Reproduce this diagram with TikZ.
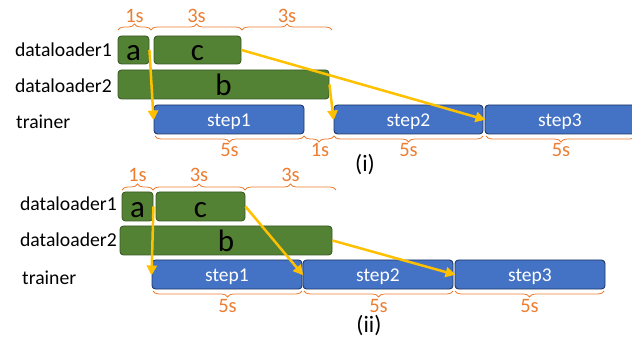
\documentclass[tikz,border=0pt]{standalone}
\usepackage{fontspec}
\setmainfont{Carlito}
\usetikzlibrary{arrows.meta,decorations.pathreplacing}
\definecolor{loadfill}{HTML}{548235}
\definecolor{loadline}{HTML}{3A5A24}
\definecolor{trainfill}{HTML}{4472C4}
\definecolor{trainline}{HTML}{1F3864}
\definecolor{spanline}{HTML}{ED7D31}
\definecolor{flowline}{HTML}{FFC000}
\begin{document}
\begin{tikzpicture}[x=1pt,y=-1pt,
  loadbox/.style={draw=loadline, fill=loadfill, line width=0.9pt, rounded corners=3.5pt,
    inner sep=0pt, minimum height=29pt, font=\fontsize{31}{31}\selectfont,
    text height=22pt, text depth=0pt},
  trainbox/.style={draw=trainline, fill=trainfill, line width=0.9pt, rounded corners=3.5pt,
    inner sep=0pt, minimum height=29pt, minimum width=150pt, text=white,
    font=\fontsize{19.5}{19.5}\selectfont, text height=14.5pt, text depth=0pt},
  rowlabel/.style={inner sep=0pt, font=\fontsize{19.7}{19.7}\selectfont},
  spanbrace/.style={draw=spanline, line width=0.8pt,
    decorate, decoration={brace, amplitude=6pt}},
  spanlabel/.style={inner sep=0pt, anchor=base, text=spanline,
    font=\fontsize{20.5}{20.5}\selectfont},
  caption/.style={inner sep=0pt, font=\fontsize{23.5}{23.5}\selectfont},
  flow/.style={draw=flowline, line width=2.5pt,
    -{Triangle[length=10pt,width=10pt]}, shorten >=-1pt}
]
\useasboundingbox (0,0) rectangle (632,339);

% ---------- panel (i): loaders in lockstep ----------
\node[rowlabel, anchor=base east] (l11) at (112,57) {dataloader1};
\node[rowlabel, anchor=base east] (l12) at (112,93) {dataloader2};
\node[rowlabel, anchor=base west] (l13) at (16,129) {trainer};

\node[loadbox, minimum width=31pt, minimum height=28pt] (a1) at (133.5,50) {a};
\node[loadbox, minimum width=87pt, minimum height=28pt] (c1) at (197.5,50) {c};
\node[loadbox, minimum width=211pt] (b1) at (223.5,84.5) {b};

\node[trainbox] (s11) at (229,119.5) {step1};
\node[trainbox, minimum width=149pt] (s12) at (408.5,119.5) {step2};
\node[trainbox] (s13) at (560,119.5) {step3};

\draw[spanbrace] (118,30) -- (151,30);
\draw[spanbrace] (151,30) -- (242,30);
\draw[spanbrace] (242,30) -- (332,30);
\node[spanlabel] (t11) at (134.5,23) {1s};
\node[spanlabel] (t12) at (196.5,23) {3s};
\node[spanlabel] (t13) at (287,23) {3s};

\draw[spanbrace] (304,136) -- (155,136);
\draw[spanbrace] (334,136) -- (304,136);
\draw[spanbrace] (483,136) -- (334,136);
\draw[spanbrace] (636,136) -- (486,136);
\node[spanlabel] (t14) at (229.5,157) {5s};
\node[spanlabel] (t15) at (320,157) {1s};
\node[spanlabel] (t16) at (408.5,157) {5s};
\node[spanlabel] (t17) at (561,157) {5s};

\node[caption] (cap1) at (365,165) {(i)};

\draw[flow] (a1.east) -- (s11.west);
\draw[flow] (b1.east) -- (s12.west);
\draw[flow] (c1.east) -- (s13.west);

% ---------- panel (ii): loaders interleaved ----------
\node[rowlabel, anchor=base east] (l21) at (117,211) {dataloader1};
\node[rowlabel, anchor=base east] (l22) at (117,247) {dataloader2};
\node[rowlabel, anchor=base west] (l23) at (22,284) {trainer};

\node[loadbox, minimum width=31pt] (a2) at (137.5,206.5) {a};
\node[loadbox, minimum width=89pt] (c2) at (200.5,206.5) {c};
\node[loadbox, minimum width=212pt] (b2) at (226,240.5) {b};

\node[trainbox] (s21) at (227,274.5) {step1};
\node[trainbox] (s22) at (378,274.5) {step2};
\node[trainbox] (s23) at (530,274.5) {step3};

\draw[spanbrace] (122,190) -- (153,190);
\draw[spanbrace] (153,190) -- (245,190);
\draw[spanbrace] (245,190) -- (336,190);
\node[spanlabel] (t21) at (137.5,182) {1s};
\node[spanlabel] (t22) at (199,182) {3s};
\node[spanlabel] (t23) at (290.5,182) {3s};

\draw[spanbrace] (302,291) -- (153,291);
\draw[spanbrace] (453,291) -- (304,291);
\draw[spanbrace] (604,291) -- (455,291);
\node[spanlabel] (t24) at (227.5,312) {5s};
\node[spanlabel] (t25) at (378.5,312) {5s};
\node[spanlabel] (t26) at (529.5,312) {5s};

\node[caption] (cap2) at (369,326) {(ii)};

\draw[flow] (a2.east) -- (s21.west);
\draw[flow] (c2.east) -- (s22.west);
\draw[flow] (b2.east) -- (s23.west);
\end{tikzpicture}
\end{document}
